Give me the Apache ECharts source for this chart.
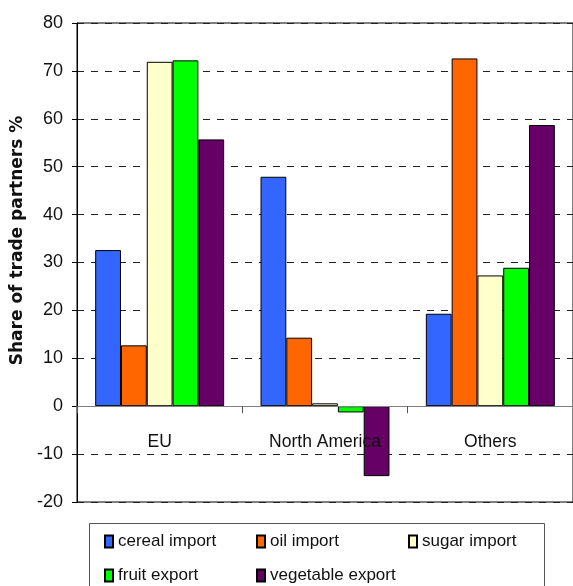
<!DOCTYPE html>
<html>
<head>
<meta charset="utf-8">
<style>
  html, body { margin: 0; padding: 0; background: #fff; }
  #chart { width: 573px; height: 586px; }
</style>
<script src="https://cdn.jsdelivr.net/npm/echarts@6/dist/echarts.min.js"></script>
</head>
<body>
<div id="chart"></div>
<script>
// Trade partner shares by region (%)
const regions = ['EU', 'North America', 'Others'];
const seriesNames = ['cereal import', 'oil import', 'sugar import', 'fruit export', 'vegetable export'];
const cerealImport = [32.6, 47.9, 19.3];
const oilImport = [12.7, 14.3, 72.6];
const sugarImport = [71.9, 0.6, 27.3];
const fruitExport = [72.2, -1.3, 28.9];
const vegetableExport = [55.7, -14.6, 58.7];
const yTicks = { min: -20, max: 80, step: 10 };

const colors = ['#3366FF', '#FF6600', '#FFFFCC', '#00FF00', '#660066'];
const values = [cerealImport, oilImport, sugarImport, fruitExport, vegetableExport];
const FONT = '"Liberation Sans", Arial, sans-serif';

// dashed gridlines, none at zero (the category axis line sits there)
const gridColors = [];
for (let v = yTicks.min; v <= yTicks.max; v += yTicks.step) {
  gridColors.push(v === 0 ? 'rgba(0,0,0,0)' : '#222');
}

const chart = echarts.init(document.getElementById('chart'));
chart.setOption({
  animation: false,
  backgroundColor: '#fff',
  grid: {
    left: 77, right: 0, top: 23, bottom: 84,
    show: true, borderColor: '#000', borderWidth: 1, backgroundColor: 'transparent'
  },
  xAxis: {
    type: 'category',
    data: regions,
    z: 3,
    axisLine: { onZero: true, lineStyle: { color: '#808080', width: 1 } },
    axisTick: { show: true, length: 7, lineStyle: { color: '#555' } },
    axisLabel: { margin: -69, color: '#111', fontFamily: FONT, fontSize: 17.5 }
  },
  yAxis: {
    type: 'value',
    min: yTicks.min, max: yTicks.max, interval: yTicks.step,
    name: 'Share of trade partners %',
    nameLocation: 'middle',
    nameRotate: 90,
    nameGap: 49,
    nameTextStyle: {
      fontFamily: '"DejaVu Sans", sans-serif', fontWeight: 'bold', fontSize: 17,
      color: '#111', padding: [0, 0, 0, 44]
    },
    axisLine: { show: true, lineStyle: { color: '#000', width: 1 } },
    axisTick: { show: true, length: 5, lineStyle: { color: '#000' } },
    axisLabel: { margin: 14, color: '#111', fontFamily: FONT, fontSize: 18 },
    splitLine: { show: true, lineStyle: { color: gridColors, type: [7, 7], width: 1 } }
  },
  legend: [
    { data: ['cereal import', 'fruit export'], left: 104, top: 533 },
    { data: ['oil import', 'vegetable export'], left: 256, top: 533 },
    { data: ['sugar import'], left: 408, top: 533 }
  ].map(l => Object.assign({
    orient: 'vertical',
    itemGap: 17,
    itemWidth: 8,
    itemHeight: 12,
    icon: 'rect',
    padding: 0,
    textStyle: { fontFamily: FONT, fontSize: 17, color: '#111' }
  }, l)),
  graphic: [{
    type: 'rect',
    shape: { x: 89.5, y: 523.5, width: 455, height: 90 },
    style: { fill: 'none', stroke: '#555', lineWidth: 1 },
    z: -1
  }],
  series: seriesNames.map((name, i) => ({
    name: name,
    type: 'bar',
    data: values[i],
    barGap: '0%',
    barCategoryGap: '22%',
    itemStyle: { color: colors[i], borderColor: '#000', borderWidth: 1 }
  }))
});
</script>
</body>
</html>
